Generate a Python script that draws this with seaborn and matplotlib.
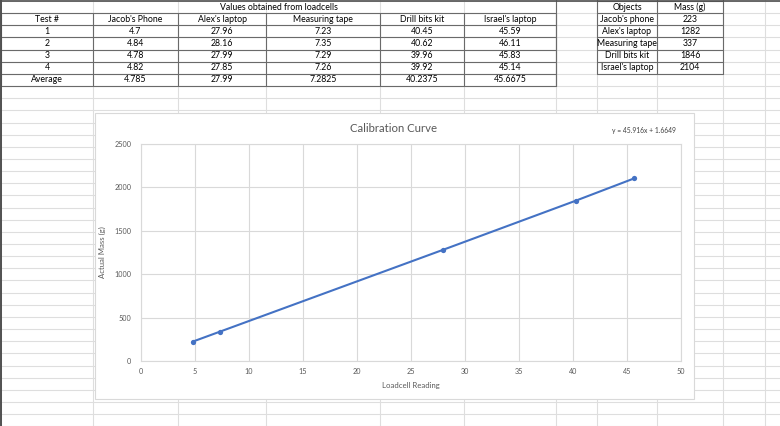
import matplotlib
matplotlib.use("Agg")
import matplotlib.pyplot as plt
import seaborn as sns
import pandas as pd
import numpy as np
from matplotlib.patches import Rectangle

# --- data from the sheet ---
header_names = ["Jacob's Phone", "Alex's laptop", "Measuring tape", "Drill bits kit", "Israel's laptop"]
test_ids = ["1", "2", "3", "4"]
jacob_phone = [4.7, 4.84, 4.78, 4.82]
alex_laptop = [27.96, 28.16, 27.99, 27.85]
measuring_tape = [7.23, 7.35, 7.29, 7.26]
drill_bits = [40.45, 40.62, 39.96, 39.92]
israel_laptop = [45.59, 46.11, 45.83, 45.14]

object_names = ["Jacob's phone", "Alex's laptop", "Measuring tape", "Drill bits kit", "Israel's laptop"]
masses = [223, 1282, 337, 1846, 2104]

equation = "y = 45.916x + 1.6649"

readings = [jacob_phone, alex_laptop, measuring_tape, drill_bits, israel_laptop]
averages = [round(float(np.mean(r)), 4) for r in readings]

data = pd.DataFrame({'Reading': averages, 'Mass': masses, 'Object': object_names})

sns.set_theme(style="white")
plt.rcParams['font.family'] = ['Lato', 'DejaVu Sans']

fig = plt.figure(figsize=(7.8, 4.26), dpi=100)

# background sheet in pixel coordinates
bg = fig.add_axes([0, 0, 1, 1])
bg.set_xlim(0, 780)
bg.set_ylim(426, 0)
bg.axis('off')

grid_col = '#dedede'
border_col = '#6a6a6a'
row_h = 12.15
rows = [1 + row_h * k for k in range(37)]
cols = [1, 93, 178, 266, 380, 464, 556, 597, 657, 723, 765]

for y in rows:
    bg.plot([0, 780], [y, y], color=grid_col, lw=0.8, zorder=1)
for x in cols:
    bg.plot([x, x], [0, 426], color=grid_col, lw=0.8, zorder=1)

# window edges
bg.plot([0, 780], [0.5, 0.5], color='#505050', lw=1.2, zorder=5)
bg.plot([0.8, 0.8], [0, 426], color='#505050', lw=1.4, zorder=5)

def row_mid(k):
    return rows[k] + row_h / 2

# main table
tcols = cols[:7]
bg.plot([tcols[-1], tcols[-1]], [0, rows[7]], color=border_col, lw=0.8, zorder=3)
for k in range(1, 8):
    bg.plot([tcols[0], tcols[-1]], [rows[k], rows[k]], color=border_col, lw=0.8, zorder=3)
for x in tcols:
    bg.plot([x, x], [rows[1], rows[7]], color=border_col, lw=0.8, zorder=3)

cell_fs = 6.3
bg.text((tcols[0] + tcols[-1]) / 2, row_mid(0), "Values obtained from loadcells",
        ha='center', va='center', fontsize=cell_fs, color='black', zorder=4)
bg.text((tcols[0] + tcols[1]) / 2, row_mid(1), "Test #", ha='center', va='center',
        fontsize=cell_fs, color='black', zorder=4)
for i, name in enumerate(header_names):
    bg.text((tcols[i + 1] + tcols[i + 2]) / 2, row_mid(1), name, ha='center', va='center',
            fontsize=cell_fs, color='black', zorder=4)
for j, tid in enumerate(test_ids):
    bg.text((tcols[0] + tcols[1]) / 2, row_mid(2 + j), tid, ha='center', va='center',
            fontsize=cell_fs, color='black', zorder=4)
    for i, r in enumerate(readings):
        bg.text((tcols[i + 1] + tcols[i + 2]) / 2, row_mid(2 + j), f"{r[j]:g}",
                ha='center', va='center', fontsize=cell_fs, color='black', zorder=4)
bg.text((tcols[0] + tcols[1]) / 2, row_mid(6), "Average", ha='center', va='center',
        fontsize=cell_fs, color='black', zorder=4)
for i, a in enumerate(averages):
    bg.text((tcols[i + 1] + tcols[i + 2]) / 2, row_mid(6), f"{a:g}", ha='center', va='center',
            fontsize=cell_fs, color='black', zorder=4)

# objects / mass table
ocols = [597, 657, 723]
for k in range(0, 7):
    bg.plot([ocols[0], ocols[-1]], [max(rows[k], 0.5), max(rows[k], 0.5)], color=border_col, lw=0.8, zorder=3)
for x in ocols:
    bg.plot([x, x], [0, rows[6]], color=border_col, lw=0.8, zorder=3)
bg.text((ocols[0] + ocols[1]) / 2, row_mid(0), "Objects", ha='center', va='center',
        fontsize=cell_fs, color='black', zorder=4)
bg.text((ocols[1] + ocols[2]) / 2, row_mid(0), "Mass (g)", ha='center', va='center',
        fontsize=cell_fs, color='black', zorder=4)
for j, (name, m) in enumerate(zip(object_names, masses)):
    bg.text((ocols[0] + ocols[1]) / 2, row_mid(1 + j), name, ha='center', va='center',
            fontsize=cell_fs, color='black', zorder=4)
    bg.text((ocols[1] + ocols[2]) / 2, row_mid(1 + j), f"{m}", ha='center', va='center',
            fontsize=cell_fs, color='black', zorder=4)

# chart box
bg.add_patch(Rectangle((95, 113), 599, 286, facecolor='white', edgecolor='#d9d9d9', lw=0.8, zorder=6))
bg.text(394, 128, "Calibration Curve", ha='center', va='center', fontsize=8.2,
        color='#595959', zorder=7)
bg.text(676, 131, equation, ha='right', va='center', fontsize=4.9, color='#404040', zorder=7)

# plot area
ax = fig.add_axes([141 / 780, (426 - 361) / 426, 540 / 780, 217 / 426])
ax.set_facecolor('none')
sns.lineplot(data=data, x='Reading', y='Mass', ax=ax, color='#4472C4', lw=1.5,
             marker='o', markersize=3.8, markeredgewidth=0, zorder=5, clip_on=False)
ax.set_xlim(0, 50)
ax.set_ylim(0, 2500)
ax.set_xticks(range(0, 51, 5))
ax.set_yticks(range(0, 2501, 500))
ax.grid(True, color='#d9d9d9', lw=0.8)
for s in ax.spines.values():
    s.set_color('#d9d9d9')
    s.set_linewidth(0.8)
ax.tick_params(axis='both', length=0, labelsize=5.2, labelcolor='#595959')
ax.tick_params(axis='x', pad=5)
ax.tick_params(axis='y', pad=7)
ax.set_xlabel('Loadcell Reading', fontsize=5.6, color='#595959', labelpad=5)
ax.set_ylabel('Actual Mass (g)', fontsize=5.6, color='#595959', labelpad=6)

plt.savefig('out.png', dpi=100)
